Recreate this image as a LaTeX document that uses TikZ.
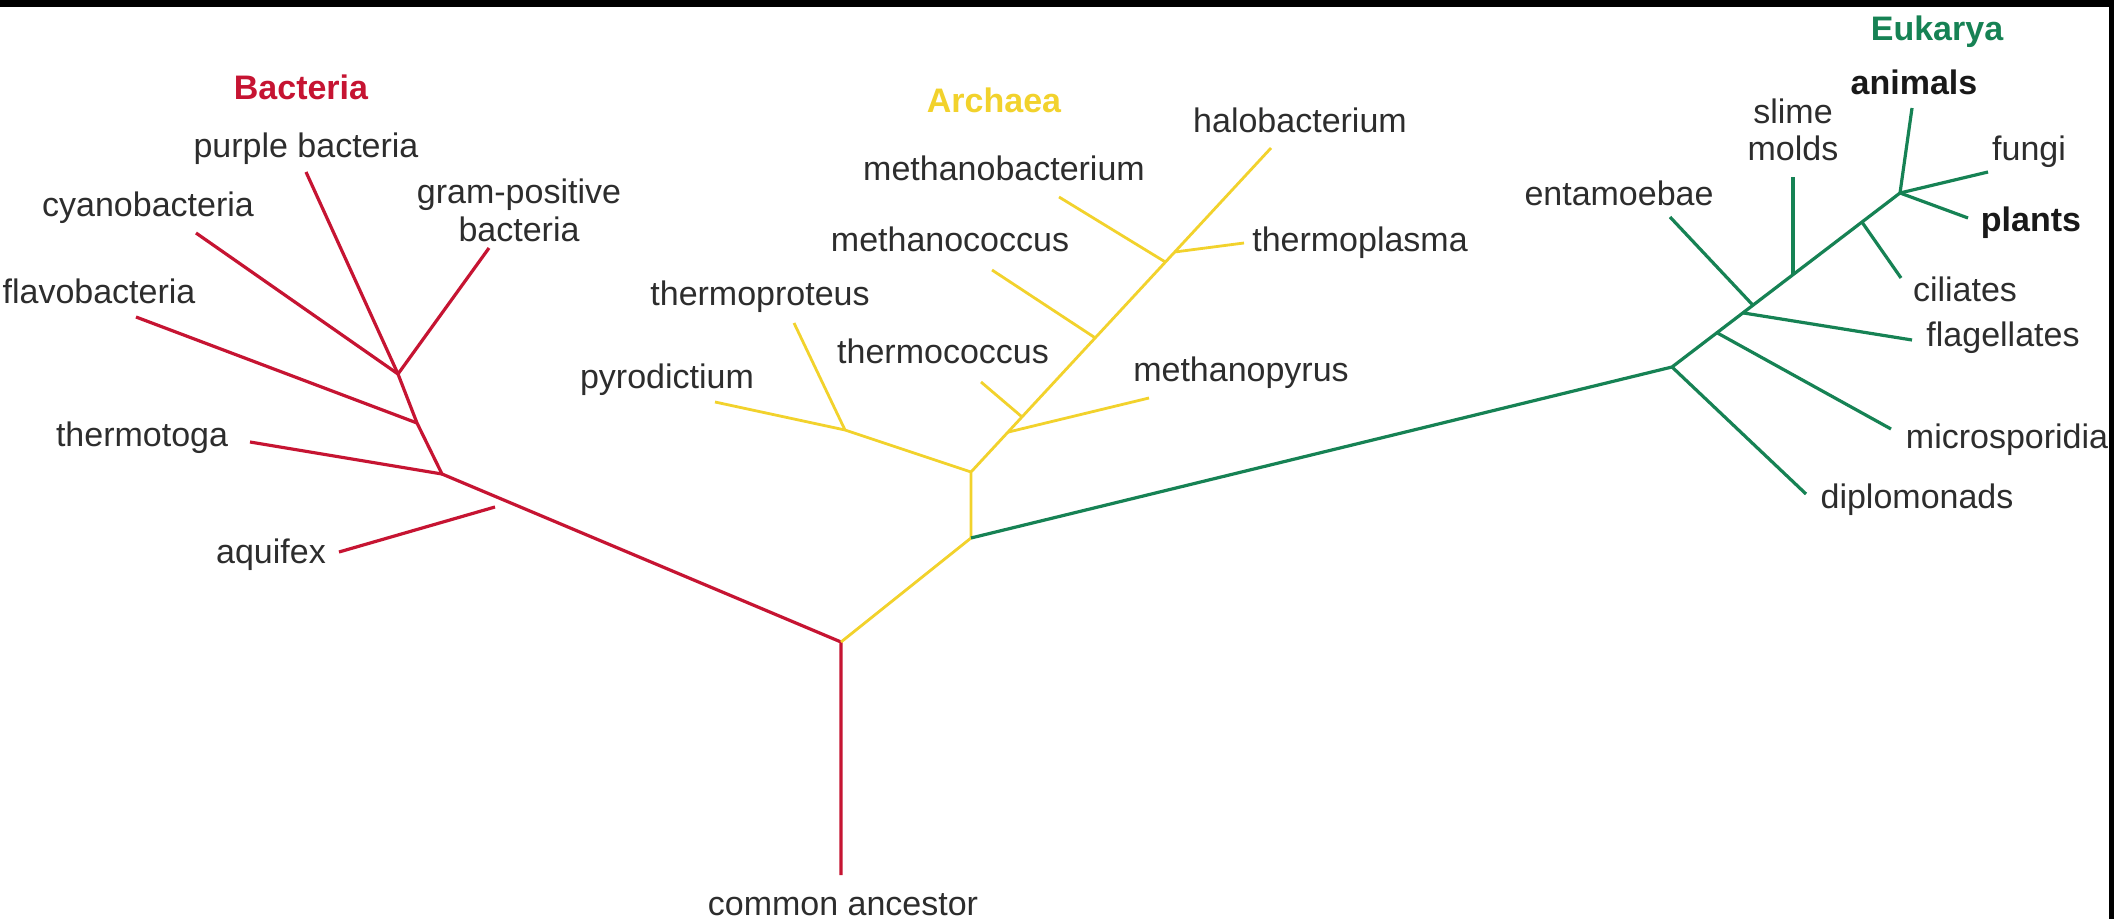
\documentclass[tikz,border=0pt]{standalone}
\usepackage{fontspec}
\setmainfont{Liberation Sans}
\usetikzlibrary{calc}
\definecolor{bred}{RGB}{198,20,50}
\definecolor{ayel}{RGB}{242,210,44}
\definecolor{egrn}{RGB}{22,130,84}
\definecolor{txt}{RGB}{45,45,45}
\definecolor{txtb}{RGB}{25,25,25}
\begin{document}
\begin{tikzpicture}[x=0.5pt,y=-0.5pt,
  lbl/.style={font=\fontsize{17}{17.5}\selectfont, text=txt, inner sep=0pt, text height=12.2pt, text depth=3.4pt},
  lbl2/.style={text=txt, inner sep=0pt, align=center, anchor=north},
  bold/.style={lbl, font=\fontsize{17}{17.5}\selectfont\bfseries},
  redline/.style={draw=bred, line width=1.6pt, line join=round},
  yelline/.style={draw=ayel, line width=1.4pt, line join=round},
  grnline/.style={draw=egrn, line width=1.6pt, line join=round}]
\useasboundingbox (0,0) rectangle (2114,919);
\fill[white] (0,0) rectangle (2114,919);
\fill[black] (0,0) rectangle (2114,7);
\fill[black] (2109,0) rectangle (2114,919);

% ---------- Bacteria ----------
\coordinate (root) at (841,875);
\coordinate (J0) at (841,642);
\coordinate (J3) at (442,474);
\coordinate (J2) at (417,423);
\coordinate (J1) at (398,374);
\coordinate (lpur) at (306,172);
\coordinate (lgram) at (489,248);
\coordinate (lcyan) at (196,233);
\coordinate (lflav) at (136,317);
\coordinate (ltmt) at (250,442);
\coordinate (laqA) at (339,552);
\coordinate (laqB) at (495,507);
\draw[redline] (root) -- (J0) -- (J3) -- (J2) -- (J1) -- (lpur);
\draw[redline] (J1) -- (lgram);
\draw[redline] (J1) -- (lcyan);
\draw[redline] (J2) -- (lflav);
\draw[redline] (J3) -- (ltmt);
\draw[redline] (laqA) -- (laqB);

% ---------- Archaea ----------
\coordinate (E) at (971,538);
\coordinate (A1) at (971,472);
\coordinate (H) at (1271,148);
\coordinate (P) at (845,430);
\coordinate (lpyro) at (715,402);
\coordinate (lprot) at (794,323);
\coordinate (mpJ) at ($(A1)!0.123!(H)$);
\coordinate (tcJ) at ($(A1)!0.170!(H)$);
\coordinate (mcJ) at ($(A1)!0.414!(H)$);
\coordinate (mbJ) at ($(A1)!0.648!(H)$);
\coordinate (tpJ) at ($(A1)!0.679!(H)$);
\coordinate (lmp) at (1149,398);
\coordinate (ltc) at (981,382);
\coordinate (lmc) at (992,270);
\coordinate (lmb) at (1059,197);
\coordinate (ltp) at (1244,243);
\draw[yelline] (J0) -- (E) -- (A1) -- (H);
\draw[yelline] (A1) -- (P) -- (lpyro);
\draw[yelline] (P) -- (lprot);
\draw[yelline] (mpJ) -- (lmp);
\draw[yelline] (tcJ) -- (ltc);
\draw[yelline] (mcJ) -- (lmc);
\draw[yelline] (mbJ) -- (lmb);
\draw[yelline] (tpJ) -- (ltp);

% ---------- Eukarya ----------
\coordinate (EK1) at (1672,367);
\coordinate (T) at (1900,193);
\coordinate (msJ) at ($(EK1)!0.197!(T)$);
\coordinate (flJ) at ($(EK1)!0.311!(T)$);
\coordinate (enJ) at ($(EK1)!0.355!(T)$);
\coordinate (smJ) at ($(EK1)!0.531!(T)$);
\coordinate (ciJ) at ($(EK1)!0.833!(T)$);
\coordinate (ldip) at (1806,494);
\coordinate (lms) at (1891,429);
\coordinate (lfl) at (1912,340);
\coordinate (len) at (1670,217);
\coordinate (lsm) at (smJ |- 0,177);
\coordinate (lci) at (1901,278);
\coordinate (lan) at (1912,108);
\coordinate (lfu) at (1988,172);
\coordinate (lpl) at (1968,218);
\draw[grnline] (E) -- (EK1) -- (T);
\draw[grnline] (EK1) -- (ldip);
\draw[grnline] (msJ) -- (lms);
\draw[grnline] (flJ) -- (lfl);
\draw[grnline] (enJ) -- (len);
\draw[grnline] (smJ) -- (lsm);
\draw[grnline] (ciJ) -- (lci);
\draw[grnline] (T) -- (lan);
\draw[grnline] (T) -- (lfu);
\draw[grnline] (T) -- (lpl);

% ---------- labels ----------
\node[bold, text=bred] (tBac) at (301,91) {Bacteria};
\node[lbl] (tpur) at (306,149) {purple bacteria};
\node[lbl2, font=\fontsize{17}{19}\selectfont] (tgram) at (519,178) {gram-positive\\bacteria};
\node[lbl] (tcyan) at (148,208) {cyanobacteria};
\node[lbl] (tflav) at (99,295) {flavobacteria};
\node[lbl] (ttmt) at (142,438) {thermotoga};
\node[lbl] (taq) at (271,555) {aquifex};
\node[lbl] (tcom) at (843,907) {common ancestor};

\node[bold, text=ayel] (tArc) at (994,104) {Archaea};
\node[lbl] (thal) at (1300,124) {halobacterium};
\node[lbl] (tmb) at (1004,172) {methanobacterium};
\node[lbl] (ttp) at (1360,243) {thermoplasma};
\node[lbl] (tmc) at (950,243) {methanococcus};
\node[lbl] (tprot) at (760,297) {thermoproteus};
\node[lbl] (tpyro) at (667,380) {pyrodictium};
\node[lbl] (ttc) at (943,355) {thermococcus};
\node[lbl] (tmp) at (1241,373) {methanopyrus};

\node[bold, text=egrn] (tEuk) at (1937,32) {Eukarya};
\node[bold, text=txtb] (tan) at (1914,86) {animals};
\node[lbl2, font=\fontsize{17}{18.5}\selectfont] (tsm) at (1793,98.5) {slime\\molds};
\node[lbl] (tfu) at (2029,152) {fungi};
\node[lbl] (ten) at (1619,197) {entamoebae};
\node[bold, text=txtb] (tpl) at (2031,223) {plants};
\node[lbl] (tci) at (1965,293) {ciliates};
\node[lbl] (tfl) at (2003,338) {flagellates};
\node[lbl] (tms) at (2007,440) {microsporidia};
\node[lbl] (tdip) at (1917,500) {diplomonads};
\end{tikzpicture}
\end{document}
